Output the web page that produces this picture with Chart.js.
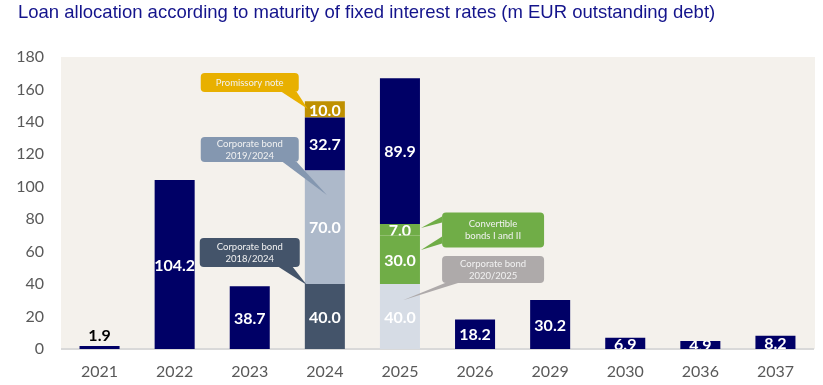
<!DOCTYPE html>
<html><head><meta charset="utf-8">
<script src="https://cdn.jsdelivr.net/npm/chart.js@4/dist/chart.umd.min.js"></script>
<style>html,body{margin:0;padding:0;background:#fff}#wrap{width:823px;height:385px}</style>
</head><body><div id="wrap"><canvas id="c" width="823" height="385"></canvas></div>
<script>
const titleText = 'Loan allocation according to maturity of fixed interest rates (m EUR outstanding debt)';
const categories = ['2021','2022','2023','2024','2025','2026','2029','2030','2036','2037'];
const corpBond2018_2024 = [null,null,null,40.0,null,null,null,null,null,null];
const corpBond2020_2025 = [null,null,null,null,40.0,null,null,null,null,null];
const corpBond2019_2024 = [null,null,null,70.0,null,null,null,null,null,null];
const convertible1 = [null,null,null,null,30.0,null,null,null,null,null];
const convertible2 = [null,null,null,null,7.0,null,null,null,null,null];
const otherDebt = [1.9,104.2,38.7,32.7,89.9,18.2,30.2,6.9,4.9,8.2];
const promissoryNote = [null,null,null,10.0,null,null,null,null,null,null];
const yTicks = [0,20,40,60,80,100,120,140,160,180];

// callout annotations: box centre (category index, value), size px, wedges (box-relative base pts, tip: category + px offset, value)
const callouts = [
  {lines:['Promissory note'], color:'#E8B000', ci:2, cv:164.3, w:98, h:19,
   wedges:[{b1:[81,19], b2:[96,19], ti:3, tdx:-17, tv:148}]},
  {lines:['Corporate bond','2019/2024'], color:'#8497B0', ci:2, cv:123, w:98, h:25,
   wedges:[{b1:[82,25], b2:[96,25], ti:3, tdx:2, tv:95}]},
  {lines:['Corporate bond','2018/2024'], color:'#44546A', ci:2, cv:59.5, w:100, h:29,
   wedges:[{b1:[79,29], b2:[93,29], ti:3, tdx:-18, tv:39.5}]},
  {lines:['Convertible','bonds I and II'], color:'#70AD47', ci:5.24, cv:73.3, w:102, h:35,
   wedges:[{b1:[0,4], b2:[0,10], ti:4, tdx:21, tv:74.6},{b1:[0,24], b2:[0,31], ti:4, tdx:21, tv:61}]},
  {lines:['Corporate bond','2020/2025'], color:'#AEAAAA', ci:5.24, cv:49, w:102, h:27,
   wedges:[{b1:[3,27], b2:[16,27], ti:4, tdx:3, tv:30}]}
];

const bgPlugin = {
  id:'bg',
  beforeDraw(chart){
    const {ctx, chartArea:a} = chart;
    ctx.save();
    ctx.fillStyle = '#F4F1EC';
    ctx.fillRect(a.left-1, a.top, a.right-a.left+3, a.bottom-a.top);
    ctx.fillStyle = '#14148C';
    ctx.font = '18.5px "Liberation Sans"';
    ctx.textAlign = 'left';
    ctx.textBaseline = 'alphabetic';
    ctx.fillText(titleText, 18, 18);
    ctx.restore();
  }
};

const labelPlugin = {
  id:'labels',
  afterDatasetsDraw(chart){
    const ctx = chart.ctx;
    ctx.save();
    ctx.font = 'bold 16px Lato';
    ctx.textAlign = 'center';
    ctx.textBaseline = 'middle';
    chart.data.datasets.forEach((ds, di) => {
      const meta = chart.getDatasetMeta(di);
      meta.data.forEach((el, i) => {
        const v = ds.data[i];
        if (v == null) return;
        const top = Math.min(el.y, el.base), bot = Math.max(el.y, el.base);
        const txt = v.toFixed(1);
        if (bot - top < 6) {
          ctx.fillStyle = '#000';
          ctx.textBaseline = 'alphabetic';
          ctx.fillText(txt, el.x, top - 5);
          ctx.textBaseline = 'middle';
          return;
        }
        ctx.save();
        ctx.beginPath();
        ctx.rect(el.x - el.width/2, top, el.width, bot - top);
        ctx.clip();
        ctx.fillStyle = '#fff';
        ctx.fillText(txt, el.x, (top + bot)/2 + 1);
        ctx.restore();
      });
    });
    ctx.restore();
  }
};

const calloutPlugin = {
  id:'callouts',
  afterDraw(chart){
    const ctx = chart.ctx, xs = chart.scales.x, ys = chart.scales.y;
    const step = xs.getPixelForValue(1) - xs.getPixelForValue(0);
    ctx.save();
    callouts.forEach(c => {
      const cx = xs.getPixelForValue(0) + c.ci * step;
      const cy = ys.getPixelForValue(c.cv);
      const x0 = cx - c.w/2, y0 = cy - c.h/2;
      ctx.fillStyle = c.color;
      c.wedges.forEach(wd => {
        const tx = xs.getPixelForValue(wd.ti) + wd.tdx;
        const ty = ys.getPixelForValue(wd.tv);
        ctx.beginPath();
        ctx.moveTo(x0 + wd.b1[0], y0 + wd.b1[1]);
        ctx.lineTo(tx, ty);
        ctx.lineTo(x0 + wd.b2[0], y0 + wd.b2[1]);
        ctx.closePath();
        ctx.fill();
      });
      ctx.beginPath();
      ctx.roundRect(x0, y0, c.w, c.h, 4);
      ctx.fill();
      ctx.fillStyle = '#F2F2F2';
      ctx.font = '9.5px Lato';
      ctx.textAlign = 'center';
      ctx.textBaseline = 'middle';
      const lh = 12;
      const start = cy - (c.lines.length - 1) * lh / 2;
      c.lines.forEach((l, k) => ctx.fillText(l, cx, start + k*lh));
    });
    ctx.restore();
  }
};

const common = {stack:'s', barPercentage:0.533, categoryPercentage:1.0, borderWidth:0};
new Chart(document.getElementById('c'), {
  type:'bar',
  data:{
    labels:categories,
    datasets:[
      {label:'Corporate bond 2018/2024', data:corpBond2018_2024, backgroundColor:'#44546A', ...common},
      {label:'Corporate bond 2020/2025', data:corpBond2020_2025, backgroundColor:'#D6DCE5', ...common},
      {label:'Corporate bond 2019/2024', data:corpBond2019_2024, backgroundColor:'#ADB9CA', ...common},
      {label:'Convertible bond I', data:convertible1, backgroundColor:'#70AD47', ...common},
      {label:'Convertible bond II', data:convertible2, backgroundColor:'#70AD47', ...common},
      {label:'Other debt', data:otherDebt, backgroundColor:'#000066', ...common},
      {label:'Promissory note', data:promissoryNote, backgroundColor:'#BF9000', ...common}
    ]
  },
  options:{
    responsive:false, animation:false,
    layout:{padding:{left:0, right:10, top:57, bottom:0}},
    plugins:{ legend:{display:false}, tooltip:{enabled:false}, title:{display:false} },
    scales:{
      x:{stacked:true, grid:{display:false, drawTicks:false},
        afterFit(s){ s.height = 36; },
        border:{display:true, color:'#D9D9D9', width:2},
        ticks:{color:'#595959', font:{family:'Lato', size:16}, padding:13}},
      y:{stacked:true, min:0, max:180,
        afterBuildTicks(s){ s.ticks = yTicks.map(v => ({value:v})); },
        afterFit(s){ s.width = 62; },
        grid:{display:false, drawTicks:false}, border:{display:false},
        ticks:{color:'#595959', font:{family:'Lato', size:16}, padding:18}}
    }
  },
  plugins:[bgPlugin, labelPlugin, calloutPlugin]
});
</script></body></html>
